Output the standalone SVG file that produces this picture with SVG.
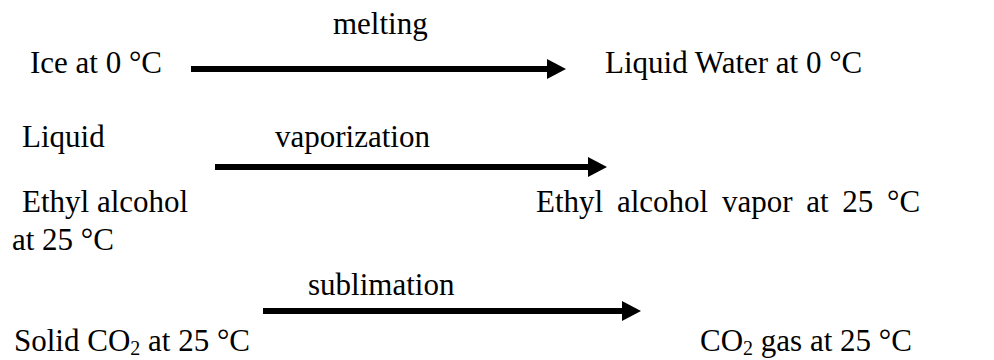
<svg xmlns="http://www.w3.org/2000/svg" width="994" height="360" viewBox="0 0 994 360">
  <style>
    text { font-family: "Liberation Serif", "Times New Roman", serif; font-size: 31px; fill: #000; }
    .bar { stroke: #000; stroke-width: 6; fill: none; }
    .sub { font-size: 20px; }
    .wide { word-spacing: 6px; }
  </style>
  <defs>
    <marker id="head" markerUnits="userSpaceOnUse" markerWidth="20" markerHeight="20" refX="0" refY="10" orient="auto">
      <path d="M0,0 L19,10 L0,20 Z" fill="#000"/>
    </marker>
  </defs>
  <rect width="994" height="360" fill="#fff"/>

  <!-- states -->
  <g id="ice"><text x="30" y="73">Ice at 0 °C</text></g>
  <g id="water"><text x="605" y="73">Liquid Water at 0 °C</text></g>
  <g id="ethanol-liquid">
    <text x="22" y="147">Liquid</text>
    <text x="22" y="212">Ethyl alcohol</text>
    <text x="12" y="250">at 25 °C</text>
  </g>
  <g id="ethanol-vapor"><text class="wide" x="536" y="212">Ethyl alcohol vapor at 25 °C</text></g>
  <g id="co2-solid"><text x="14" y="351">Solid CO<tspan class="sub" dy="4">2</tspan><tspan dy="-4"> at 25 °C</tspan></text></g>
  <g id="co2-gas"><text x="700" y="351">CO<tspan class="sub" dy="4">2</tspan><tspan dy="-4"> gas at 25 °C</tspan></text></g>

  <!-- process arrows -->
  <g id="connectors">
    <line class="bar" x1="191" y1="69" x2="547" y2="69" marker-end="url(#head)"/>
    <line class="bar" x1="215" y1="167" x2="588" y2="167" marker-end="url(#head)"/>
    <line class="bar" x1="263" y1="311" x2="622" y2="311" marker-end="url(#head)"/>
    <text x="333" y="34">melting</text>
    <text x="275" y="147">vaporization</text>
    <text x="308" y="295">sublimation</text>
  </g>
</svg>
